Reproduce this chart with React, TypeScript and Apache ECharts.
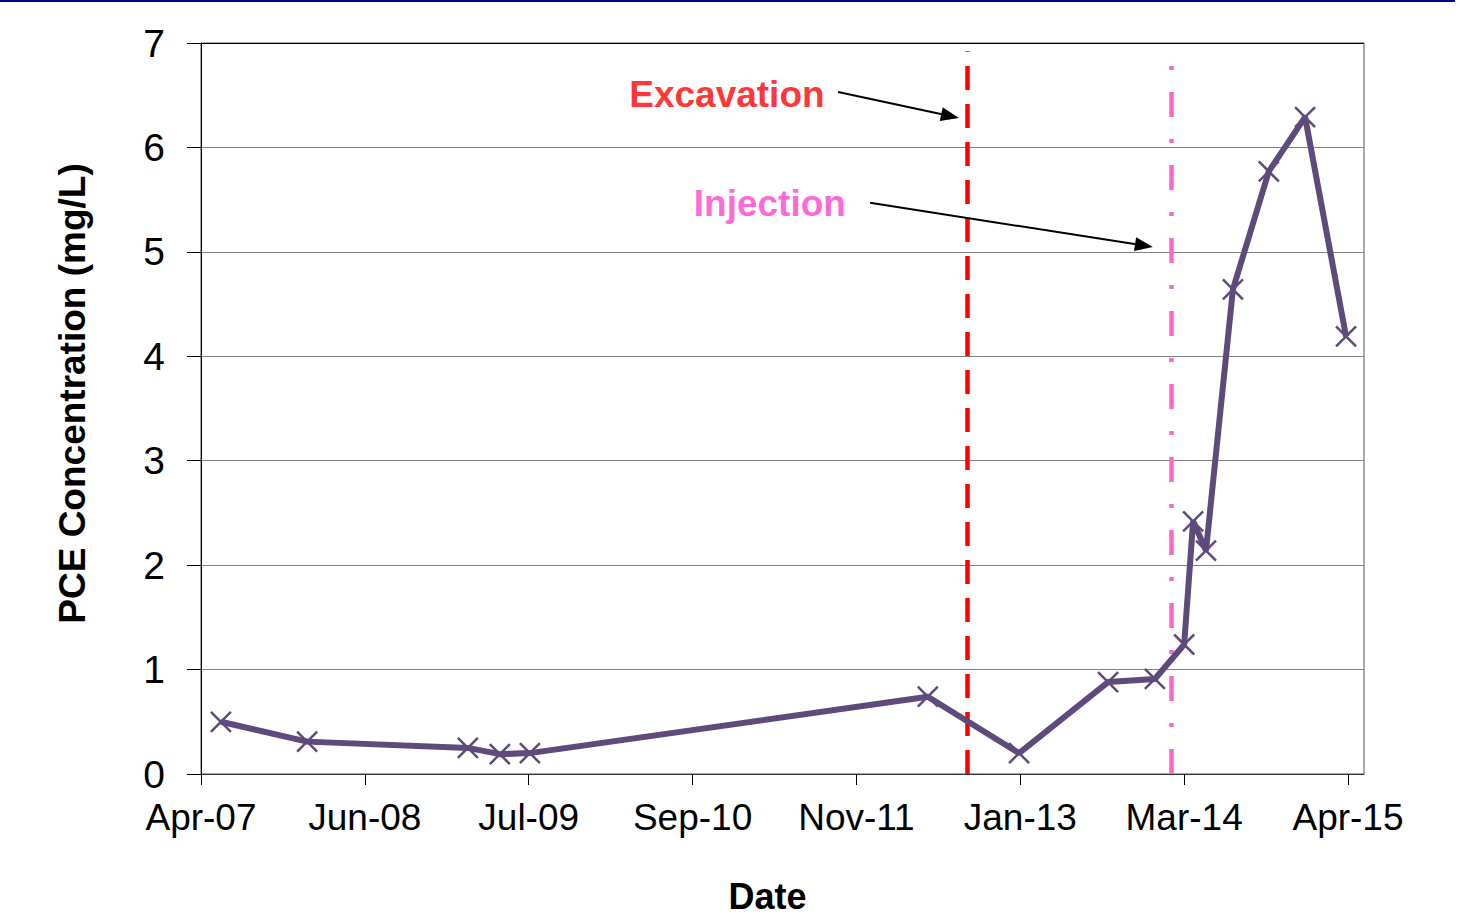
import React, { useEffect, useRef } from "react";
import * as echarts from "echarts";

// ---- data ----
const AXIS_START = "2007-04-10";
const TICK_STEP_DAYS = 420;
const AXIS_SPAN_DAYS = 2981;
const TICK_LABELS = ["Apr-07", "Jun-08", "Jul-09", "Sep-10", "Nov-11", "Jan-13", "Mar-14", "Apr-15"];

const SAMPLE_DATES = [
  "2007-05-31", "2008-01-07", "2009-02-22", "2009-05-15", "2009-07-31",
  "2012-05-16", "2013-01-05", "2013-08-21", "2013-12-19", "2014-03-04",
  "2014-03-27", "2014-04-29", "2014-07-07", "2014-10-07", "2015-01-08", "2015-04-23",
];
const PCE_VALUES = [0.5, 0.31, 0.25, 0.19, 0.2, 0.74, 0.2, 0.88, 0.91, 1.24, 2.42, 2.14, 4.64, 5.77, 6.29, 4.19];

const EXCAVATION_DATE = "2012-08-24";
const EXCAVATION_TOP = 6.92;
const INJECTION_DATE = "2014-01-29";
const INJECTION_TOP = 6.83;

// annotation labels: [day offset from axis start, value, text]
const LABEL_EXCAVATION = [1348, 6.51, "Excavation"];
const LABEL_INJECTION = [1458, 5.46, "Injection"];
// arrows: [fromDay, fromValue, toDay, toValue] (day offsets from axis start)
const ARROW_EXCAVATION = [1633, 6.53, 1920, 6.3];
const ARROW_INJECTION = [1715, 5.47, 2417, 5.06];

const Y_MIN = 0;
const Y_MAX = 7;

const dayNum = (s: string) => {
  const [y, m, d] = s.split("-").map(Number);
  return Date.UTC(y, m - 1, d) / 86400000;
};

const FONT = "'Liberation Sans', Arial, sans-serif";

export default function App() {
  const ref = useRef<HTMLDivElement>(null);
  useEffect(() => {
    document.body.style.margin = "0";
    if (!ref.current) return;
    const chart = echarts.init(ref.current, undefined, { renderer: "svg" });
    const d0 = dayNum(AXIS_START);
    const tickValues = TICK_LABELS.map((_, i) => d0 + i * TICK_STEP_DAYS);
    const seriesData = SAMPLE_DATES.map((s, i) => [dayNum(s), PCE_VALUES[i]]);
    const exX = dayNum(EXCAVATION_DATE);
    const inX = dayNum(INJECTION_DATE);
    const gridColors = ["#808080", "#808080", "#808080", "#808080", "#808080", "#808080", "#808080", "#000000"];

    chart.setOption({
      animation: false,
      textStyle: { fontFamily: FONT },
      grid: {
        left: 201,
        top: 43,
        width: 1163,
        height: 731,
        show: true,
        borderColor: "#555555",
        borderWidth: 1,
        containLabel: false,
      },
      graphic: [
        {
          type: "rect",
          left: 0,
          top: 0,
          shape: { width: 1455, height: 2 },
          style: { fill: "#000080" },
        },
      ],
      xAxis: {
        type: "value",
        min: d0,
        max: d0 + AXIS_SPAN_DAYS,
        name: "Date",
        nameLocation: "middle",
        nameGap: 104,
        nameTextStyle: { fontSize: 36, fontWeight: "bold", color: "#000", fontFamily: FONT, padding: [0, 30, 0, 0] },
        axisLine: { show: true, lineStyle: { color: "#333333", width: 1 } },
        axisTick: { show: true, inside: false, length: 11, customValues: tickValues, lineStyle: { color: "#000", width: 1 } },
        axisLabel: {
          customValues: tickValues,
          margin: 25,
          fontSize: 37,
          color: "#000",
          fontFamily: FONT,
          formatter: (v: number) => {
            const idx = Math.round((v - d0) / TICK_STEP_DAYS);
            return TICK_LABELS[idx] ?? "";
          },
        },
        splitLine: { show: false },
      },
      yAxis: {
        type: "value",
        min: Y_MIN,
        max: Y_MAX,
        interval: 1,
        name: "PCE Concentration (mg/L)",
        nameLocation: "middle",
        nameGap: 110,
        nameRotate: 90,
        nameTextStyle: { fontSize: 37, fontWeight: "bold", color: "#000", fontFamily: FONT, padding: [0, 0, 0, 30] },
        axisLine: { show: true, lineStyle: { color: "#000", width: 1 } },
        axisTick: { show: true, inside: false, length: 14, lineStyle: { color: "#000", width: 1 } },
        axisLabel: { margin: 36, fontSize: 39, color: "#000", fontFamily: FONT },
        splitLine: { show: true, lineStyle: { color: gridColors, width: 1 } },
      },
      series: [
        {
          name: "PCE",
          type: "line",
          data: seriesData,
          z: 5,
          lineStyle: { color: "#5F4A7C", width: 6 },
          symbol: "path://M0,0L10,10M10,0L0,10",
          symbolSize: 20,
          itemStyle: { color: "#5F4A7C", borderColor: "#5F4A7C", borderWidth: 2.5 },
          markLine: {
            silent: true,
            symbol: ["none", "none"],
            label: { show: false },
            animation: false,
            data: [
              [
                { coord: [exX, Y_MIN], lineStyle: { color: "#FF0000", width: 4.5, type: [24, 14] } },
                { coord: [exX, EXCAVATION_TOP] },
              ],
              [
                { coord: [inX, Y_MIN], lineStyle: { color: "#FF66CC", width: 4.5, type: [25, 22, 4, 22] } },
                { coord: [inX, INJECTION_TOP] },
              ],
            ],
          },
        },
        {
          name: "annotations",
          type: "scatter",
          symbolSize: 0,
          silent: true,
          z: 6,
          data: [
            { value: [d0 + (LABEL_EXCAVATION[0] as number), LABEL_EXCAVATION[1]], name: LABEL_EXCAVATION[2], label: { color: "#FF0000" } },
            { value: [d0 + (LABEL_INJECTION[0] as number), LABEL_INJECTION[1]], name: LABEL_INJECTION[2], label: { color: "#FF3FCC" } },
          ],
          label: {
            show: true,
            position: "inside",
            formatter: (p: any) => p.name,
            fontSize: 37,
            fontWeight: "bold",
            fontFamily: FONT,
          },
          markLine: {
            silent: true,
            symbol: ["none", "triangle"],
            symbolSize: [14, 18],
            label: { show: false },
            lineStyle: { color: "#000", width: 2, type: "solid" },
            itemStyle: { color: "#000" },
            data: [
              [
                { coord: [d0 + ARROW_EXCAVATION[0], ARROW_EXCAVATION[1]] },
                { coord: [d0 + ARROW_EXCAVATION[2], ARROW_EXCAVATION[3]] },
              ],
              [
                { coord: [d0 + ARROW_INJECTION[0], ARROW_INJECTION[1]] },
                { coord: [d0 + ARROW_INJECTION[2], ARROW_INJECTION[3]] },
              ],
            ],
          },
        },
      ],
    });
    return () => chart.dispose();
  }, []);
  return <div ref={ref} style={{ width: 1461, height: 922 }} />;
}
